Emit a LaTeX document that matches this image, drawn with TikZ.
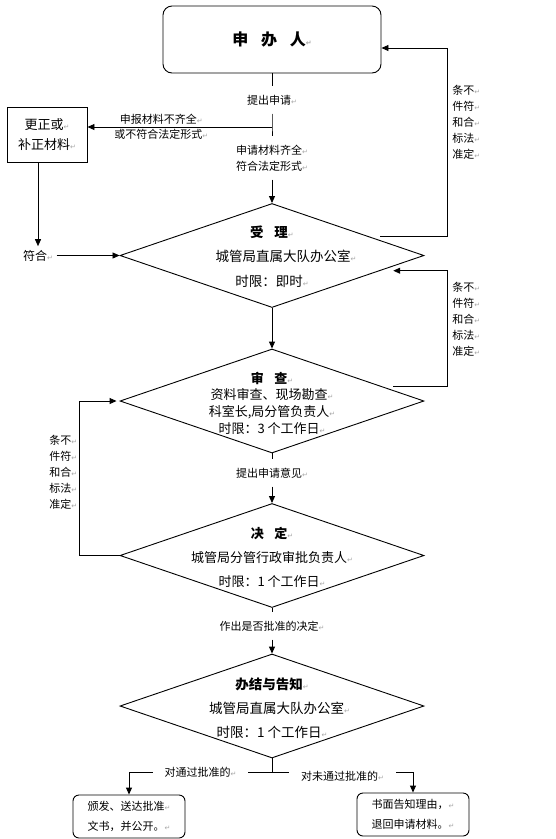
\documentclass[tikz,border=0pt]{standalone}
\usepackage{fontspec}
\setmainfont{Noto Sans CJK SC}
\newfontfamily\symfnt{DejaVu Sans}
\usetikzlibrary{shapes.geometric,arrows.meta,calc,positioning}
\newcommand{\retm}{{\symfnt\fontsize{7}{7}\selectfont\color{gray!70}↵}}
\begin{document}
\begin{tikzpicture}[x=1pt,y=-1pt,>={Triangle[length=7pt,width=6pt]},line width=0.9pt,
	font=\fontsize{11}{16}\selectfont,
	dia/.style={draw,diamond,minimum width=304pt,minimum height=104pt,inner sep=0pt},
	dtext/.style={align=center,font=\fontsize{13.5}{24.5}\selectfont},
	lbl/.style={align=center,inner xsep=2pt,inner ysep=8pt},
	note/.style={align=left,inner sep=0pt,anchor=west},
	endbox/.style={draw,rounded corners=6pt,minimum width=112pt,minimum height=43pt,align=left,font=\fontsize{11}{20}\selectfont}]
	\useasboundingbox (0,0) rectangle (556,839);
	\def\cx{272} \def\xr{447} \def\xl{79} % cot giua, duong vong
	\node[draw,rounded corners=9pt,minimum width=218pt,minimum height=67pt,font=\bfseries\fontsize{16}{16}\selectfont] (sbr) at (\cx,39.5) {申\hspace{0.8em}办\hspace{0.8em}人\retm};
	\node[lbl] (tq) at (\cx,100) {提出申请\retm};
	\coordinate (jc) at (\cx,127);
	\node[lbl] (ql) at (\cx,158) {申请材料齐全\retm\\符合法定形式\retm};
	\node[draw,minimum width=80pt,minimum height=55pt,align=center,font=\fontsize{13}{20}\selectfont] (gz) at (47,134.5) {更正或\retm\\补正材料\retm};
	\node[font=\fontsize{12}{12}\selectfont] (fh) at (38,255.5) {符合\retm};
	% cac buoc
	\node[dia] (sl) at (\cx,255.5) {};
	\node[dtext] (slt) at (\cx,256.5) {{\bfseries 受\hspace{0.8em}理}\retm\\\hspace*{28pt}城管局直属大队办公室\retm\\时限：即时\retm};
	\node[dia] (sc) at (\cx,401) {};
	\node[dtext,font=\fontsize{13}{16.7}\selectfont] (sct) at (\cx,403) {{\bfseries 审\hspace{0.8em}查}\retm\\资料审查、现场勘查\retm\\科室长,局分管负责人\retm\\时限：3 个工作日\retm};
	\node[lbl] (yj) at (\cx,473) {提出申请意见\retm};
	\node[dia] (jd) at (\cx,555.5) {};
	\node[dtext,font=\fontsize{13}{24}\selectfont] (jdt) at (\cx,557) {{\bfseries 决\hspace{0.8em}定}\retm\\城管局分管行政审批负责人\retm\\时限：1 个工作日\retm};
	\node[lbl] (zc) at (\cx,626) {作出是否批准的决定\retm};
	\node[dia] (bj) at (\cx,706) {};
	\node[dtext,font=\fontsize{13.5}{24}\selectfont] (bjt) at (\cx,708) {{\bfseries 办结与告知}\retm\\\hspace*{15pt}城管局直属大队办公室\retm\\时限：1 个工作日\retm};
	\coordinate (jn) at (\cx,772);
	\node[endbox] (ok) at (129,816.5) {颁发、送达批准\retm\\文书，并公开。\retm};
	\node[endbox] (no) at (413,814.5) {书面告知理由，\retm\\退回申请材料。\retm};
	\node[note] (n1) at (452,122.5) {条不\retm\\件符\retm\\和合\retm\\标法\retm\\准定\retm};
	\node[note] (n2) at (452,319.5) {条不\retm\\件符\retm\\和合\retm\\标法\retm\\准定\retm};
	\node[note] (n3) at (49,472) {条不\retm\\件符\retm\\和合\retm\\标法\retm\\准定\retm};
	% duong noi
	\draw (sbr) -- (tq);
	\draw (tq) -- (jc) -- (ql);
	\draw[->] (ql) -- (sl);
	\draw[->] (jc) -- node[pos=0.6,above,inner sep=2pt]{申报材料不齐全\retm} node[pos=0.6,below,inner sep=2pt]{或不符合法定形式\retm} (jc -| gz.east);
	\draw[->] (gz.south -| fh) -- (fh);
	\draw[->] (fh) -- (sl);
	\draw[->] (sl) -- (sc);
	\draw (sc) -- (yj);
	\draw[->] (yj) -- (jd);
	\draw (jd) -- (zc);
	\draw[->] (zc) -- (bj);
	\coordinate (p1) at ($(sl.north)!0.63!(sl.east)$);
	\coordinate (r1) at (\xr,48);
	\draw[->,shorten <=12pt] (p1) -| (r1) -- (r1 -| sbr.east);
	\coordinate (p2) at ($(sc.north)!0.73!(sc.east)$);
	\coordinate (q2) at ($(sl.east)!0.29!(sl.south)$);
	\draw[->,shorten <=10pt,shorten >=13pt] (p2) -| (q2 -| r1) -- (q2);
	\coordinate (l1) at (\xl,401);
	\draw[->,shorten >=3pt] (jd.west) -| (l1) -- (sc.west);
	\draw (bj) -- (jn);
	\draw[->] (jn) -| node[pos=0.25,fill=white,inner xsep=12pt,inner ysep=1pt]{对通过批准的\retm} (ok);
	\draw[->] (jn) -| node[pos=0.25,fill=white,inner xsep=12pt,inner ysep=1pt,yshift=-4pt]{对未通过批准的\retm} (no);
\end{tikzpicture}
\end{document}
